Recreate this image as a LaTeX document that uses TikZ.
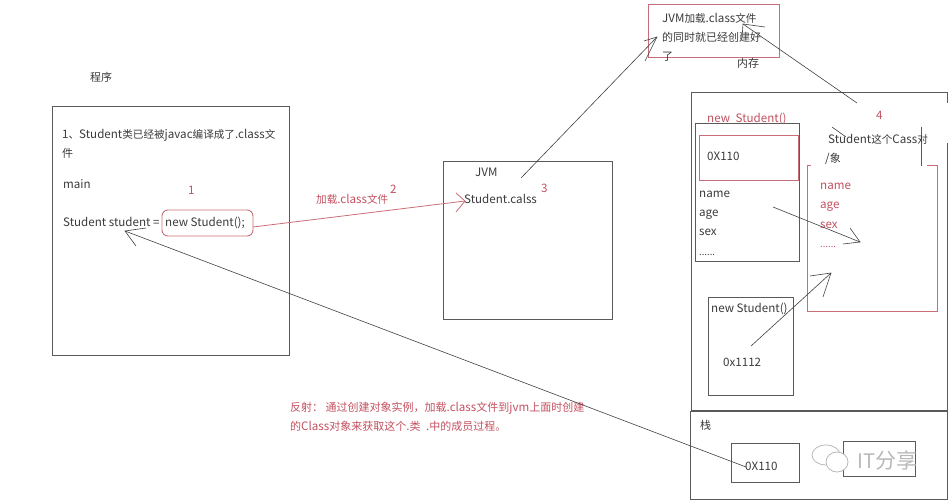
\documentclass[tikz,border=0pt]{standalone}
\usepackage{fontspec}
\setmainfont{Noto Sans CJK SC}
\newcommand{\zh}[1]{{\fontsize{11pt}{13pt}\selectfont #1}}
\newcommand{\zhs}[1]{{\fontsize{10.6pt}{13pt}\selectfont #1}}
\definecolor{boxgray}{HTML}{5A5A5A}
\definecolor{inkdark}{HTML}{3A3A3A}
\definecolor{redtext}{HTML}{C2505F}
\definecolor{redline}{HTML}{C96E78}
\definecolor{wmgray}{HTML}{B8B8B8}
\tikzset{
  gbox/.style={draw=boxgray,line width=.9pt,anchor=north west,inner sep=0pt,outer sep=0pt},
  rbox/.style={draw=redline,line width=.9pt,anchor=north west,inner sep=0pt,outer sep=0pt},
  txt/.style={anchor=base west,inner sep=0pt,text=inkdark,font=\fontsize{11.6pt}{14pt}\selectfont},
  rtxt/.style={txt,text=redtext},
  stxt/.style={txt,font=\fontsize{9.5pt}{11pt}\selectfont},
  srtxt/.style={stxt,text=redtext},
  conn/.style={draw=black!75,line width=.6pt},
  rconn/.style={draw=redline,line width=.8pt},
}
\begin{document}
\begin{tikzpicture}[x=1pt,y=-1pt]
\useasboundingbox (0,0) rectangle (952,500);
% boxes
\node[gbox,minimum width=237pt,minimum height=249pt] (prog) at (52,106) {};
\node[gbox,minimum width=169pt,minimum height=158pt] (jvm) at (443,161) {};
\node[rbox,minimum width=131pt,minimum height=53pt] (top) at (648,4) {};
\node[rbox,rounded corners=6pt,minimum width=91pt,minimum height=26pt] (newbox) at (162,210) {};
\draw[boxgray,line width=.9pt] (947,103) -- (947,92) -- (691,92) -- (691,410) -- (947,410) -- (947,143);
\node[gbox,minimum width=104pt,minimum height=138pt] (obj) at (695,123) {};
\node[rbox,minimum width=99pt,minimum height=45pt] (addr) at (699,135) {};
\node[rbox,minimum width=130pt,minimum height=146pt] (cls) at (807,165) {};
\draw[white,line width=1.8pt] (811,165) -- (927,165);
\draw[boxgray,line width=.9pt] (921,127) -- (921,166);
\node[gbox,minimum width=85pt,minimum height=98pt] (obj2) at (708,297) {};
\node[gbox,minimum width=257pt,minimum height=88pt] (stack) at (690,411) {};
\node[gbox,minimum width=68pt,minimum height=39pt] (ref) at (731,443) {};
\node[gbox,minimum width=72pt,minimum height=35pt] (other) at (843,441) {};
% watermark
\draw[wmgray,line width=.8pt] (826,455) ellipse [x radius=14,y radius=10];
\draw[wmgray,line width=.8pt,fill=white] (837,462) ellipse [x radius=11,y radius=10];
\node[txt,text=wmgray,font=\fontsize{20pt}{22pt}\selectfont] (wm) at (857,468) {IT{\fontsize{21pt}{22pt}\selectfont 分享}};
% texts
\node[txt] (t1) at (90,82) {\zh{程序}};
\node[txt] (t2) at (62,138) {1\zhs{、}Student\zhs{类已经被}javac\zhs{编译成了}.class\zhs{文}};
\node[txt] (t3) at (62,157) {\zh{件}};
\node[txt] (t4) at (63,188) {main};
\node[rtxt] (t5) at (188,194) {1};
\node[txt] (t6) at (63,226) {Student student =};
\node[txt] (t7) at (165,226) {new Student();};
\node[rtxt] (t8) at (316,203) {\zhs{加载}.class\zhs{文件}};
\node[rtxt] (t9) at (390,193) {2};
\node[txt] (t10) at (475,176) {JVM};
\node[rtxt] (t11) at (541,192) {3};
\node[txt] (t12) at (464,203) {Student.calss};
\node[txt] (t13) at (662,23) {JVM\zhs{加载}.class\zhs{文件}};
\node[txt] (t14) at (662,42) {\zh{的同时就已经创建好}};
\node[txt] (t15) at (662,61) {\zh{了}};
\node[txt] (t16) at (737,68) {\zh{内存}};
\node[rtxt] (t17) at (707,123) {new\hspace{3pt} Student()};
\node[rtxt] (t18) at (876,119) {4};
\node[txt] (t19) at (828,143) {Student\zhs{这个}Cass\zhs{对}};
\node[txt] (t20) at (825,162) {/\zh{象}};
\node[txt] (t21) at (707,160) {0X110};
\node[txt] (t22) at (699,197) {name};
\node[txt] (t23) at (699,216) {age};
\node[txt] (t24) at (699,235) {sex};
\node[stxt] (t25) at (699,255) {......};
\node[rtxt] (t26) at (820,189) {name};
\node[rtxt] (t27) at (820,208) {age};
\node[rtxt] (t28) at (820,228) {sex};
\node[srtxt] (t29) at (820,247) {......};
\node[txt] (t30) at (711,312) {new Student()};
\node[txt] (t31) at (723,366) {0x1112};
\node[txt] (t32) at (700,429) {\zh{栈}};
\node[txt] (t33) at (745,470) {0X110};
\node[rtxt] (t34) at (290,411) {\zh{反射： 通过创建对象实例，加载}.class\zh{文件到}jvm\zh{上面时创建}};
\node[rtxt] (t35) at (290,430) {\zh{的}Class\zh{对象来获取这个}.\zh{类}\hspace{3pt} .\zh{中的成员过程。}};
% connector coordinates
\coordinate (a0) at (253,227); \coordinate (a1) at (465,201); \coordinate (a2) at (456,193); \coordinate (a3) at (456,212);
\coordinate (b0) at (521,178); \coordinate (b1) at (657,37); \coordinate (b2) at (644,41); \coordinate (b3) at (645,61);
\coordinate (c0) at (857,103); \coordinate (c1) at (743,24); \coordinate (c2) at (765,27); \coordinate (c3) at (742,38);
\coordinate (c4) at (832,127); \coordinate (c5) at (846,137);
\coordinate (d0) at (773,207); \coordinate (d1) at (860,242); \coordinate (d2) at (850,228); \coordinate (d3) at (843,244);
\coordinate (e0) at (751,346); \coordinate (e1) at (831,273); \coordinate (e2) at (810,276); \coordinate (e3) at (823,297);
\coordinate (f0) at (746,467); \coordinate (f1) at (125,231); \coordinate (f2) at (146,228); \coordinate (f3) at (136,246);
% connectors
\draw[rconn] (a0) -- (a1);
\draw[rconn] (a2) -- (a1) -- (a3);
\draw[conn] (b0) -- (b1);
\draw[conn] (b2) -- (b1) -- (b3);
\draw[conn] (c0) -- (c1);
\draw[conn] (c2) -- (c1) -- (c3);
\draw[conn] (c4) -- (c5);
\draw[conn] (d0) -- (d1);
\draw[conn] (d2) -- (d1) -- (d3);
\draw[conn] (e0) -- (e1);
\draw[conn] (e2) -- (e1) -- (e3);
\draw[conn] (f0) -- (f1);
\draw[conn] (f2) -- (f1) -- (f3);
\end{tikzpicture}
\end{document}
